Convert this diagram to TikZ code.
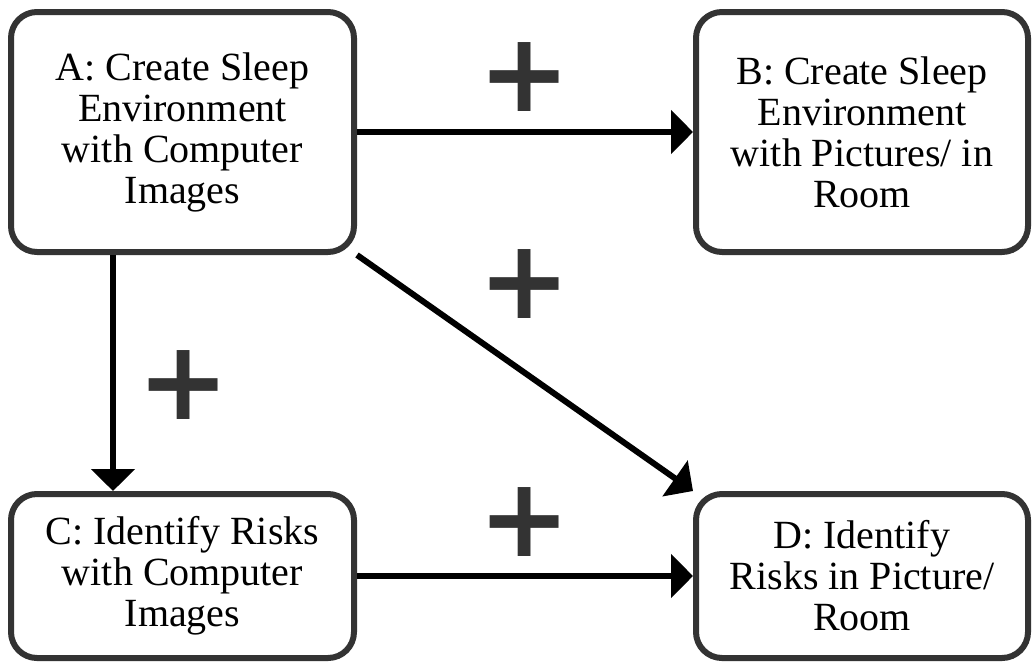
\documentclass[tikz,border=0pt]{standalone}
\usepackage{fontspec}
\setmainfont{Liberation Serif}
\newfontfamily\plusfont{DejaVu Sans}
\usetikzlibrary{arrows.meta}
\definecolor{boxgray}{HTML}{333333}
\begin{document}
\begin{tikzpicture}[x=1pt,y=-1pt,
  procbox/.style={draw=boxgray, line width=6pt, rounded corners=26pt, fill=white,
    align=center, font=\fontsize{40}{41}\selectfont, inner sep=0pt},
  conn/.style={line width=6pt, -{Triangle[length=22pt,width=43pt]}},
  plussign/.style={text=boxgray, font=\plusfont\bfseries\fontsize{110}{110}\selectfont, inner sep=0pt}]
\useasboundingbox (0,0) rectangle (1032,667);
\node[procbox, minimum width=343pt, minimum height=240pt] (A) at (182.5,132)
  {A: Create Sleep\\Environment\\with Computer\\Images};
\node[procbox, minimum width=332pt, minimum height=240pt] (B) at (862,132)
  {B: Create Sleep\\Environment\\with Pictures/ in\\Room};
\node[procbox, minimum width=343pt, minimum height=164pt] (C) at (182.5,576)
  {C: Identify Risks\\with Computer\\Images};
\node[procbox, minimum width=332pt, minimum height=164pt] (D) at (862,576)
  {D: Identify\\Risks in Picture/\\Room};
\draw[conn] (A.east) -- (B.west);
\draw[conn] (A.south) ++(-69.5pt,0) coordinate (As) -- (As |- C.north);
\draw[conn] (A.south east) -- (D.north west);
\draw[conn] (C.east) -- (D.west);
\node[plussign] (p1) at (525,77) {+};
\node[plussign] (p2) at (525,284) {+};
\node[plussign] (p3) at (184,385) {+};
\node[plussign] (p4) at (525,522) {+};
\end{tikzpicture}
\end{document}
